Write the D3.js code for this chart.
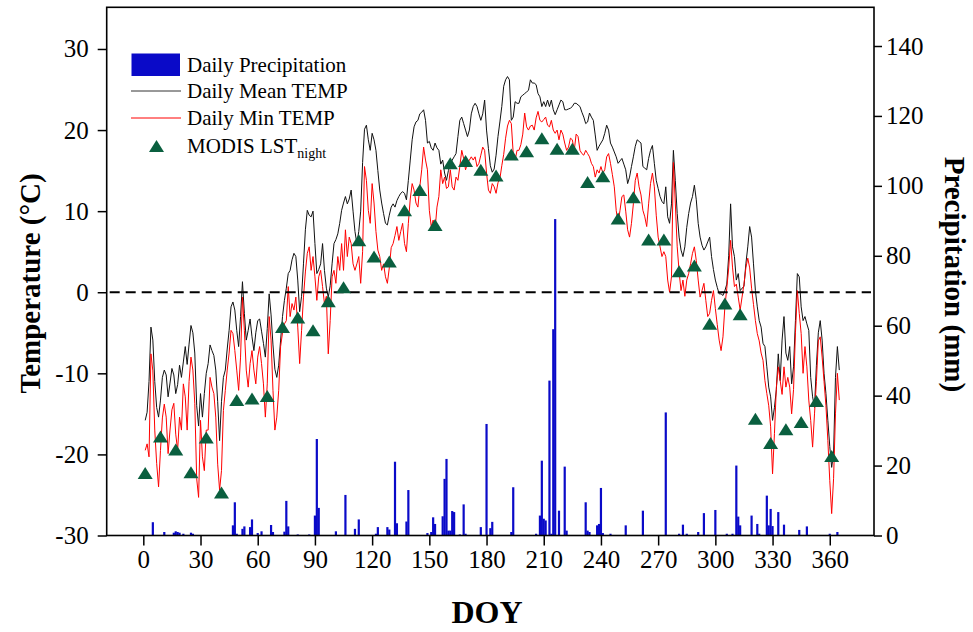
<!DOCTYPE html>
<html><head><meta charset="utf-8">
<script src="https://cdn.jsdelivr.net/npm/d3@7"></script>
<style>body{margin:0;background:#fff}svg{display:block}</style>
</head><body>
<svg id="chart" width="973" height="632"></svg>
<script>
// ---------------- data ----------------
const meanTemp = [
-15.8,-14.8,-11.0,-4.3,-5.9,-11.0,-14.2,-15.4,-13.3,-10.5,
-9.6,-10.2,-12.9,-11.2,-9.4,-10.2,-12.5,-11.4,-9.0,-10.5,
-8.6,-6.7,-8.9,-6.4,-4.1,-5.0,-7.5,-14.0,-16.5,-12.5,
-15.4,-12.5,-10.0,-8.8,-6.5,-7.2,-7.8,-9.6,-13.5,-18.3,
-13.5,-10.5,-9.6,-7.0,-4.7,-1.8,-1.2,-2.2,-4.7,-6.7,
-3.0,1.3,-2.6,-5.9,-4.7,-3.3,-5.5,-7.2,-5.0,-3.5,
-3.3,-4.8,-6.3,-8.0,-4.5,-0.2,-2.8,-6.5,-9.5,-10.5,
-9.0,-5.9,-3.0,-1.0,0.5,2.3,2.7,4.0,4.8,4.4,
1.5,-2.4,-0.5,3.5,7.7,10.1,9.5,9.3,10.0,6.0,
2.3,2.8,3.5,6.0,2.7,0.5,-0.6,0.8,3.5,6.0,
6.5,7.2,8.5,10.1,11.0,11.8,10.9,11.5,12.6,10.0,
7.5,6.0,7.5,10.0,16.0,20.1,20.6,18.8,17.5,19.6,
18.8,17.5,15.0,12.6,11.0,9.7,8.5,8.3,9.5,10.5,
10.9,10.5,11.3,11.8,12.2,12.4,12.2,11.4,13.8,16.3,
18.8,20.4,21.0,21.2,22.0,22.2,22.5,21.2,18.4,18.6,
17.8,17.5,18.4,17.8,17.5,15.8,16.3,14.7,13.8,15.0,
15.8,16.3,16.7,17.1,19.2,21.2,21.6,20.8,20.0,19.2,
20.0,22.0,22.9,23.3,22.9,22.0,21.2,22.0,23.7,20.0,
17.7,15.6,14.8,15.2,16.9,19.2,21.0,22.9,25.4,26.2,
26.6,26.2,21.2,21.6,23.5,23.3,23.3,24.1,24.3,24.5,
24.7,24.9,26.2,25.8,25.8,25.6,24.5,24.1,22.9,23.5,
22.9,23.7,22.9,23.7,22.5,21.9,22.5,23.1,23.7,23.5,
22.5,22.5,22.6,22.7,22.9,23.3,23.3,23.1,22.9,22.2,
21.6,20.8,21.0,22.1,21.6,21.2,19.4,17.5,18.0,18.4,
18.8,19.6,20.6,20.0,18.4,17.9,17.3,16.7,15.9,16.2,
16.5,15.8,15.1,13.4,14.2,15.5,16.7,18.0,18.8,18.6,
18.4,15.5,15.3,15.1,16.5,17.5,18.1,15.9,13.8,12.8,
11.8,11.2,10.9,13.0,9.3,8.5,10.9,17.5,13.8,9.7,
6.8,5.2,4.4,5.6,8.0,9.7,11.0,11.8,13.2,11.4,
8.5,6.8,5.8,5.2,5.6,6.2,6.8,4.4,2.8,1.5,
0.6,-0.2,-0.2,-0.4,0.2,1.0,4.5,10.9,5.6,4.4,
1.5,2.3,0.2,0.5,0.7,3.5,5.6,8.1,6.8,3.5,
0.2,-1.8,-3.5,-4.3,-6.3,-6.7,-9.2,-11.7,-12.9,-15.8,
-14.2,-12.0,-7.6,-10.9,-5.9,-3.0,-7.5,-8.4,-6.7,-11.3,
-9.2,-3.5,2.3,1.9,-1.8,-3.5,-3.0,-3.9,-4.7,-10.5,
-12.9,-14.2,-9.0,-5.0,-3.5,-5.9,-10.0,-12.5,-15.8,-19.0,
-21.6,-19.9,-10.5,-6.7,-9.6
];
const minTemp = [
-19.5,-18.7,-20.3,-7.6,-9.7,-17.0,-21.1,-24.0,-19.5,-15.5,
-13.8,-15.4,-19.9,-17.0,-14.5,-13.7,-17.5,-19.5,-15.4,-17.0,
-11.3,-12.9,-17.0,-11.0,-8.0,-9.6,-13.7,-23.0,-25.3,-15.8,
-20.3,-22.0,-17.0,-17.0,-10.5,-11.7,-12.5,-15.4,-21.2,-24.4,
-22.0,-14.6,-12.1,-9.6,-7.5,-4.7,-5.1,-7.2,-9.6,-12.1,
-8.0,-0.6,-4.7,-9.6,-11.7,-8.8,-7.2,-9.6,-11.3,-8.0,
-6.7,-8.8,-11.3,-15.4,-11.3,-3.0,-5.9,-12.1,-17.0,-15.4,
-12.1,-6.7,-5.0,-3.9,-3.5,0.7,-3.0,-1.4,-2.2,-0.6,
-4.3,-8.8,-4.7,-0.6,2.5,4.8,5.6,2.7,4.4,1.9,
-1.0,1.9,2.7,0.7,-1.4,-0.5,-7.6,-3.5,1.9,2.7,
1.1,4.4,2.7,6.0,2.7,7.7,4.4,6.8,6.0,3.5,
2.7,3.5,4.4,1.1,5.0,15.5,13.8,10.1,8.5,13.4,
11.0,7.5,5.2,4.4,2.7,3.5,1.9,1.1,3.0,5.5,
6.0,7.0,8.1,6.4,7.5,8.5,6.0,5.0,8.5,11.5,
13.4,12.6,11.0,10.5,13.0,15.1,17.9,16.3,15.1,10.1,
8.1,8.9,7.7,10.5,11.8,15.1,13.4,14.2,12.8,13.0,
15.1,13.0,12.6,14.2,13.8,15.5,17.5,16.5,15.1,15.9,
16.3,16.7,16.3,16.7,15.5,15.9,16.9,17.9,17.5,14.7,
12.6,12.2,13.4,13.0,12.2,13.5,14.0,15.6,17.0,19.0,
20.5,21.2,20.8,17.1,16.3,17.5,17.5,18.2,19.5,22.1,
20.4,20.0,20.5,20.6,20.0,21.5,22.3,21.2,21.0,21.3,
21.6,20.6,20.4,21.2,20.0,19.6,20.0,18.8,20.0,19.5,
18.4,17.5,17.9,19.0,18.8,17.5,19.5,19.2,17.5,17.1,
16.9,17.5,17.1,16.7,15.9,15.5,14.2,15.1,14.7,15.5,
14.7,15.1,16.7,17.1,15.9,14.5,13.0,10.1,8.5,10.1,
11.8,12.0,10.0,7.7,6.8,8.5,10.9,13.8,14.7,13.0,
12.0,10.1,9.3,8.1,10.9,13.4,14.7,13.0,9.5,6.8,
5.6,4.4,5.0,4.4,1.5,0.0,1.9,16.0,11.0,5.6,
2.5,0.2,1.5,-0.5,1.5,2.3,3.5,4.8,5.6,3.9,
1.5,-0.6,0.2,1.1,-1.0,-3.0,-2.6,-1.0,0.2,-2.0,
-4.0,-5.9,-7.2,-5.5,-1.8,0.5,3.0,6.4,3.1,0.7,
1.0,-0.6,-2.2,-0.6,1.0,3.0,4.2,3.0,0.5,-1.5,
-3.5,-5.1,-6.0,-7.5,-8.4,-10.9,-12.5,-14.0,-16.6,-22.4,
-17.4,-11.7,-9.2,-10.9,-12.6,-9.2,-11.7,-10.5,-11.7,-15.0,
-12.0,-5.0,0.2,-2.6,-5.1,-10.0,-6.7,-9.2,-13.3,-15.8,
-19.1,-15.0,-11.0,-6.0,-5.5,-8.0,-11.0,-14.0,-18.3,-23.2,
-27.3,-23.0,-15.0,-10.0,-13.3
];
const precipDays = [5,11,16,17,18,19,21,25,26,47,48,49,52,53,56,57,60,62,67,68,74,75,76,81,87,90,91,92,
101,106,111,113,122,123,128,129,132,133,138,139,149,151,152,153,157,158,159,160,161,162,163,166,168,169,
177,180,182,183,193,194,206,208,209,210,211,213,214,215,216,218,221,222,232,233,234,238,239,240,241,245,
253,262,274,281,283,285,291,294,300,306,309,311,312,313,319,322,323,327,328,329,330,333,336,344,348,360,364];
const precipValues = [3.8,1.0,0.8,1.2,1.0,0.8,0.5,0.8,0.5,2.9,9.5,0.5,1.9,2.6,2.4,4.6,0.7,1.2,3.0,1.0,1.1,9.9,2.6,0.3,0.3,5.7,27.6,7.9,
1.2,11.6,1.9,4.6,0.5,2.4,2.4,1.7,21.1,3.5,4.0,13.0,0.7,1.0,5.2,3.3,5.5,16.2,21.9,1.4,1.4,7.0,6.7,0.3,8.9,0.5,
2.4,31.9,2.1,3.9,1.0,13.8,0.5,5.7,21.4,4.8,4.3,44.3,0.5,59.0,90.5,7.1,19.7,1.4,9.5,1.4,1.0,2.9,3.3,13.6,0.7,0.5,
2.9,7.1,35.2,0.5,3.1,0.5,1.0,6.4,7.3,0.5,0.5,20.0,5.4,2.9,5.7,3.3,0.5,11.4,2.9,7.6,2.7,6.7,3.1,1.6,2.6,0.5,1.0];
const modisDays = [1,9,17,25,33,41,49,57,65,73,81,89,97,105,113,121,129,137,145,153,161,169,177,185,193,201,209,
217,225,233,241,249,257,265,273,281,289,297,305,313,321,329,337,345,353,361];
const modisLST = [-22.3,-17.8,-19.4,-22.2,-17.9,-24.7,-13.3,-13.1,-12.8,-4.3,-3.1,-4.7,-1.1,0.6,6.4,4.4,3.8,10.1,12.6,8.3,
15.9,16.2,15.1,14.4,17.0,17.4,19.0,17.7,17.7,13.6,14.3,9.1,11.7,6.5,6.5,2.6,3.3,-3.9,-1.4,-2.7,-15.6,-18.6,-16.9,-16.0,-13.4,-20.2];
const xTicks = [0,30,60,90,120,150,180,210,240,270,300,330,360];
const tempTicks = [-30,-20,-10,0,10,20,30];
const precipTicks = [0,20,40,60,80,100,120,140];
const legendLabels = ["Daily Precipitation","Daily Mean TEMP","Daily Min TEMP","MODIS LST"];

// ---------------- layout ----------------
const L = 106.7, R = 874, T = 7.3, B = 535.5;
const FONT = "'Liberation Serif','Times New Roman',serif";
const svg = d3.select("#chart");

const x = d3.scaleLinear().domain([-19.2, 383.2]).range([L, R]);
const yT = d3.scaleLinear().domain([-30, 35.14]).range([B, T]);
const yP = d3.scaleLinear().domain([0, 151.07]).range([B, T]);

const plot = svg.append("g");

// precipitation bars
const precip = precipDays.map((d,i)=>({day:d, v:precipValues[i]}));
plot.selectAll("rect.bar").data(precip).enter().append("rect")
  .attr("class","bar")
  .attr("x", d => x(d.day) - 1.1)
  .attr("width", 2.2)
  .attr("y", d => yP(d.v))
  .attr("height", d => B - yP(d.v))
  .attr("fill", "#0a0ac8");

// lines
const line = d3.line().x((d,i)=>x(i+1)).y(d=>yT(d));
plot.append("path").datum(meanTemp).attr("d", line)
  .attr("fill","none").attr("stroke","#111").attr("stroke-width",1);
plot.append("path").datum(minTemp).attr("d", line)
  .attr("fill","none").attr("stroke","#ff0000").attr("stroke-width",1);

// zero dashed line
plot.append("line").attr("x1", L+3).attr("x2", R-3)
  .attr("y1", yT(0)).attr("y2", yT(0))
  .attr("stroke","#000").attr("stroke-width",2).attr("stroke-dasharray","10,6");

// MODIS triangles
const tri = (cx, cy) => `M${cx},${cy-6}L${cx+7.5},${cy+6}L${cx-7.5},${cy+6}Z`;
const modis = modisDays.map((d,i)=>({day:d, v:modisLST[i]}));
plot.selectAll("path.tri").data(modis).enter().append("path")
  .attr("class","tri")
  .attr("d", d => tri(x(d.day), yT(d.v)))
  .attr("fill", "#0a5f3f");

// axes
const xAxis = d3.axisBottom(x).tickValues(xTicks).tickSize(10).tickSizeOuter(0).tickPadding(5);
const gx = svg.append("g").attr("transform",`translate(0,${B})`).call(xAxis);
const yAxisL = d3.axisLeft(yT).tickValues(tempTicks).tickSize(9).tickSizeOuter(0).tickPadding(9)
  .tickFormat(d3.format("d"));
const gyl = svg.append("g").attr("transform",`translate(${L},0)`).call(yAxisL);
const yAxisR = d3.axisRight(yP).tickValues(precipTicks).tickSize(8).tickSizeOuter(0).tickPadding(4);
const gyr = svg.append("g").attr("transform",`translate(${R},0)`).call(yAxisR);
[gx,gyl,gyr].forEach(g=>{
  g.select(".domain").remove();
  g.selectAll(".tick line").attr("stroke","#000").attr("stroke-width",1.5);
  g.selectAll(".tick text").attr("fill","#000").style("font-family",FONT).style("font-size","25px");
});
gyl.selectAll(".tick text").text(d => d < 0 ? "-" + Math.abs(d) : d);

// frame
svg.append("rect").attr("x",L).attr("y",T).attr("width",R-L).attr("height",B-T)
  .attr("fill","none").attr("stroke","#000").attr("stroke-width",1.6);

// axis titles
svg.append("text").attr("transform",`translate(40,${(T+B)/2+12}) rotate(-90)`)
  .attr("text-anchor","middle").style("font-family",FONT).style("font-size","29px")
  .style("font-weight","bold").text("Temperature (°C)");
svg.append("text").attr("transform",`translate(945,${(T+B)/2+3}) rotate(90)`)
  .attr("text-anchor","middle").style("font-family",FONT).style("font-size","29px")
  .style("font-weight","bold").text("Precipitation (mm)");
svg.append("text").attr("x", 487).attr("y", 623)
  .attr("text-anchor","middle").style("font-family",FONT).style("font-size","32px")
  .style("font-weight","bold").text("DOY");

// legend
const lg = svg.append("g");
const rowsY = [65, 91, 118, 146];
lg.append("rect").attr("x",131.5).attr("y",53.5).attr("width",48.5).attr("height",22.5).attr("fill","#0a0ac8");
lg.append("line").attr("x1",131).attr("x2",181).attr("y1",rowsY[1]).attr("y2",rowsY[1]).attr("stroke","#333").attr("stroke-width",1);
lg.append("line").attr("x1",131).attr("x2",181).attr("y1",rowsY[2]).attr("y2",rowsY[2]).attr("stroke","#ff0000").attr("stroke-width",1);
lg.append("path").attr("d", tri(156.5, rowsY[3])).attr("fill","#0a5f3f");
legendLabels.forEach((t,i)=>{
  const tx = lg.append("text").attr("x",187).attr("y",rowsY[i]+7)
    .style("font-family",FONT).style("font-size","21px").attr("fill","#000").text(t);
  if (i===3) tx.append("tspan").attr("dy",5).style("font-size","14px").text("night");
});
</script>
</body></html>
